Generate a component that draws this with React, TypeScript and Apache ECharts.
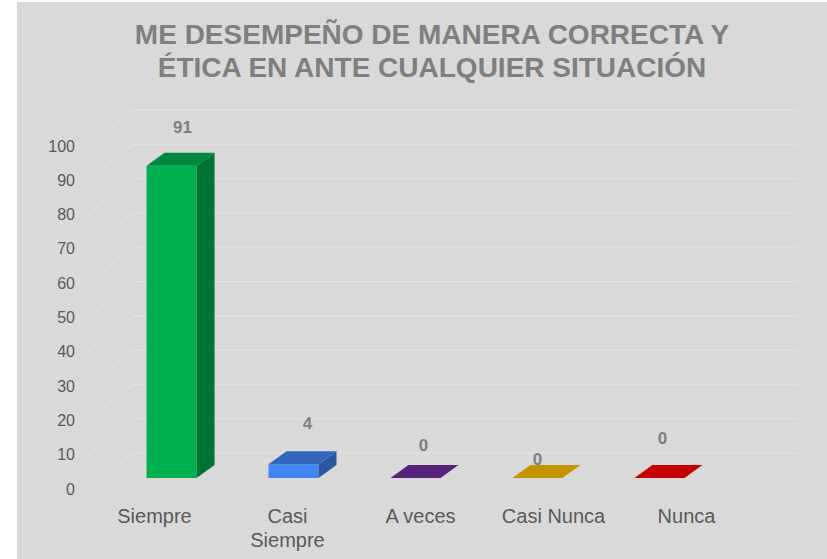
import { useEffect, useRef } from "react";
import * as echarts from "echarts";

const titleLines = ["ME DESEMPEÑO DE MANERA CORRECTA Y", "ÉTICA EN ANTE CUALQUIER SITUACIÓN"];
const categories = ["Siempre", "Casi\nSiempre", "A veces", "Casi Nunca", "Nunca"];
const values = [91, 4, 0, 0, 0];
const barColors = ["#00B050", "#4285F4", "#7030A0", "#FFC000", "#FF0000"];
const yTicks = [0, 10, 20, 30, 40, 50, 60, 70, 80, 90, 100];
// data-label nudges (px) as placed in the original
const labelNudgeX = [3, 6, 0, -8, -5];
const labelNudgeY = [0, -3, 5, 19, -2];

const W = 827;
const H = 559;
const FONT = "'Liberation Sans', Arial, sans-serif";
const WALL_DX = 45;
const WALL_DY = -36;
const BAR_DX = 18;
const BAR_DY = -13;
const BAR_SHIFT_Y = -11;
const BAR_W = 50;
const PCX = 360;
const PS = 0.917;

function shade(hex: string, f: number) {
  const n = parseInt(hex.slice(1), 16);
  const r = Math.round(((n >> 16) & 255) * f);
  const g = Math.round(((n >> 8) & 255) * f);
  const b = Math.round((n & 255) * f);
  return `rgb(${r},${g},${b})`;
}

export default function App() {
  const ref = useRef<HTMLDivElement>(null);
  useEffect(() => {
    if (!ref.current) return;
    const chart = echarts.init(ref.current, undefined, { renderer: "svg" });
    chart.setOption({
      animation: false,
      backgroundColor: "#ffffff",
      graphic: [
        {
          type: "rect",
          z: -10,
          shape: { x: 17, y: 2, width: W - 17, height: H - 2 },
          style: { fill: "#d9d9d9" },
          silent: true,
        },
      ],
      title: {
        text: titleLines.join("\n"),
        left: 427,
        top: 13,
        textAlign: "center",
        textStyle: {
          fontSize: 28,
          fontWeight: "bold",
          color: "#7f7f7f",
          lineHeight: 33,
          fontFamily: FONT,
        },
      },
      grid: { left: 88, right: W - 753, top: 146, bottom: H - 489 },
      xAxis: {
        type: "category",
        data: categories,
        axisLine: { show: false },
        axisTick: { show: false },
        splitLine: { show: false },
        axisLabel: {
          color: "#595959",
          fontSize: 20,
          lineHeight: 24,
          margin: 15,
          fontFamily: FONT,
          interval: 0,
        },
      },
      yAxis: {
        type: "value",
        min: 0,
        max: 100,
        interval: 10,
        axisLine: { show: false },
        axisTick: { show: false },
        splitLine: { show: false },
        axisLabel: { color: "#595959", fontSize: 16, margin: 13, fontFamily: FONT },
      },
      series: [
        {
          type: "custom",
          name: "walls",
          silent: true,
          clip: false,
          z: 1,
          data: yTicks.map((t) => [0, t]),
          encode: { x: 0, y: 1 },
          renderItem: (params: any, api: any) => {
            const cs = params.coordSys;
            const y = api.coord([0, api.value(1)])[1];
            return {
              type: "polyline",
              shape: {
                points: [
                  [cs.x, y],
                  [cs.x + WALL_DX, y + WALL_DY],
                  [cs.x + cs.width + WALL_DX, y + WALL_DY],
                ],
              },
              style: { stroke: "#e3e3e3", lineWidth: 1, fill: null },
            };
          },
        },
        {
          type: "custom",
          name: "bars",
          clip: false,
          z: 3,
          data: values.map((v, i) => [i, v]),
          encode: { x: 0, y: 1 },
          renderItem: (params: any, api: any) => {
            const i = api.value(0);
            const v = api.value(1);
            const top = api.coord([i, v]);
            const base = api.coord([i, 0]);
            const cx = PCX + PS * (top[0] - PCX);
            const yT = top[1] + BAR_SHIFT_Y;
            const yB = base[1] + BAR_SHIFT_Y;
            const xL = cx - BAR_W / 2;
            const xR = cx + BAR_W / 2;
            const c = barColors[i];
            const children: any[] = [];
            if (yB - yT > 0.5) {
              children.push({
                type: "rect",
                shape: { x: xL, y: yT, width: BAR_W, height: yB - yT },
                style: { fill: c },
              });
              children.push({
                type: "polygon",
                shape: {
                  points: [
                    [xR, yT],
                    [xR + BAR_DX, yT + BAR_DY],
                    [xR + BAR_DX, yB + BAR_DY],
                    [xR, yB],
                  ],
                },
                style: { fill: shade(c, 0.66) },
              });
            }
            children.push({
              type: "polygon",
              shape: {
                points: [
                  [xL, yT],
                  [xR, yT],
                  [xR + BAR_DX, yT + BAR_DY],
                  [xL + BAR_DX, yT + BAR_DY],
                ],
              },
              style: { fill: shade(c, 0.77) },
            });
            children.push({
              type: "text",
              z2: 10,
              style: {
                x: cx + BAR_DX / 2 - 1 + labelNudgeX[i],
                y: yT + BAR_DY - 25 + labelNudgeY[i],
                text: String(v),
                align: "center",
                verticalAlign: "middle",
                font: `bold 17px ${FONT}`,
                fill: "#7f7f7f",
              },
            });
            return { type: "group", children };
          },
        },
      ],
    });
    return () => chart.dispose();
  }, []);
  return (
    <div
      ref={ref}
      style={{ position: "fixed", left: 0, top: 0, width: W, height: H }}
    />
  );
}
